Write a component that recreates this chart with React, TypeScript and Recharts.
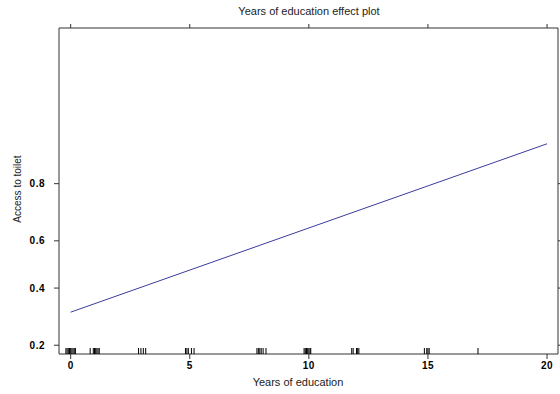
import React from "react";
import { ComposedChart, Line, Scatter, XAxis, YAxis } from "recharts";

// Fitted effect of years of education on the probability of access to a toilet
const educationYears = [0, 20];
const accessProb = [0.306, 0.888];

// Observed years of education (jittered rug along the bottom)
const rugYears = [
  -0.2, -0.15, -0.1, -0.05, 0, 0.05, 0.1, 0.15, 0.2,
  0.82, 0.95, 1.0, 1.05, 1.1, 1.15, 1.2,
  2.85, 2.95, 3.05, 3.15,
  4.82, 4.88, 4.94, 5.07, 5.18,
  7.82, 7.88, 7.94, 8.0, 8.08, 8.2,
  9.8, 9.85, 9.9, 9.95, 10.0, 10.05, 10.08,
  11.8, 11.86, 12.0, 12.05, 12.1,
  14.85, 14.95, 15.0, 15.05,
  17.1,
];

const xTicks = [0, 5, 10, 15, 20];
const yTickProbs = [0.2, 0.4, 0.6, 0.8];
const xRange = [-0.49, 20.46];
const probRange = [0.177, 0.983];

// the response axis is drawn on the logit scale
const logit = (p: number) => Math.log(p / (1 - p));
const yDomain = [logit(probRange[0]), logit(probRange[1])];
const yTicks = yTickProbs.map(logit);

const lineData = educationYears.map((x, i) => ({ x, y: logit(accessProb[i]) }));
const rugData = rugYears.map((x) => ({ x, y: yDomain[0] }));

const axisColor = "#333";
const font = "'Liberation Sans', Arial, sans-serif";
const blank = () => "";

const RugMark = (props: any) => {
  const { cx, cy } = props;
  return <line x1={cx} x2={cx} y1={cy - 6} y2={cy} stroke="#000" strokeWidth={1} />;
};

const tickStyle = { fill: "#000", fontSize: 10, fontWeight: 700, fontFamily: font, letterSpacing: 0.5 };

export default function App() {
  return (
    <div style={{ position: "absolute", left: 0, top: 0, background: "#fff" }}>
      <ComposedChart
        width={560}
        height={394}
        margin={{ top: 0, right: 0, bottom: 0, left: 0 }}
      >
        <XAxis
          xAxisId="bottom"
          type="number"
          dataKey="x"
          domain={xRange}
          ticks={xTicks}
          allowDataOverflow
          height={40}
          tickSize={5}
          tickMargin={3}
          stroke={axisColor}
          tick={tickStyle}
        />
        <XAxis
          xAxisId="top"
          orientation="top"
          type="number"
          dataKey="x"
          domain={xRange}
          ticks={xTicks}
          allowDataOverflow
          height={28}
          tickSize={4}
          tickFormatter={blank}
          stroke={axisColor}
        />
        <YAxis
          yAxisId="left"
          type="number"
          dataKey="y"
          domain={yDomain}
          ticks={yTicks}
          allowDataOverflow
          width={59}
          tickSize={5}
          tickMargin={9}
          stroke={axisColor}
          tick={tickStyle}
          tickFormatter={(v: number) => (1 / (1 + Math.exp(-v))).toFixed(1)}
        />
        <YAxis
          yAxisId="right"
          orientation="right"
          type="number"
          dataKey="y"
          domain={yDomain}
          ticks={yTicks}
          allowDataOverflow
          width={2}
          tickSize={4}
          tickFormatter={blank}
          stroke={axisColor}
        />
        <Scatter
          xAxisId="bottom"
          yAxisId="left"
          data={rugData}
          dataKey="y"
          shape={RugMark}
          isAnimationActive={false}
        />
        <Line
          xAxisId="bottom"
          yAxisId="left"
          data={lineData}
          dataKey="y"
          type="linear"
          stroke="#3b3b9e"
          strokeWidth={1}
          dot={false}
          activeDot={false}
          isAnimationActive={false}
        />
        <text x={309} y={15} textAnchor="middle" fontFamily={font} fontSize={11} fill="#222">
          Years of education effect plot
        </text>
        <text x={298} y={386} textAnchor="middle" fontFamily={font} fontSize={11} fill="#222">
          Years of education
        </text>
        <text
          x={21}
          y={189}
          textAnchor="middle"
          fontFamily={font}
          fontSize={10}
          fill="#222"
          transform="rotate(-90 21 189)"
        >
          Access to toilet
        </text>
      </ComposedChart>
    </div>
  );
}
